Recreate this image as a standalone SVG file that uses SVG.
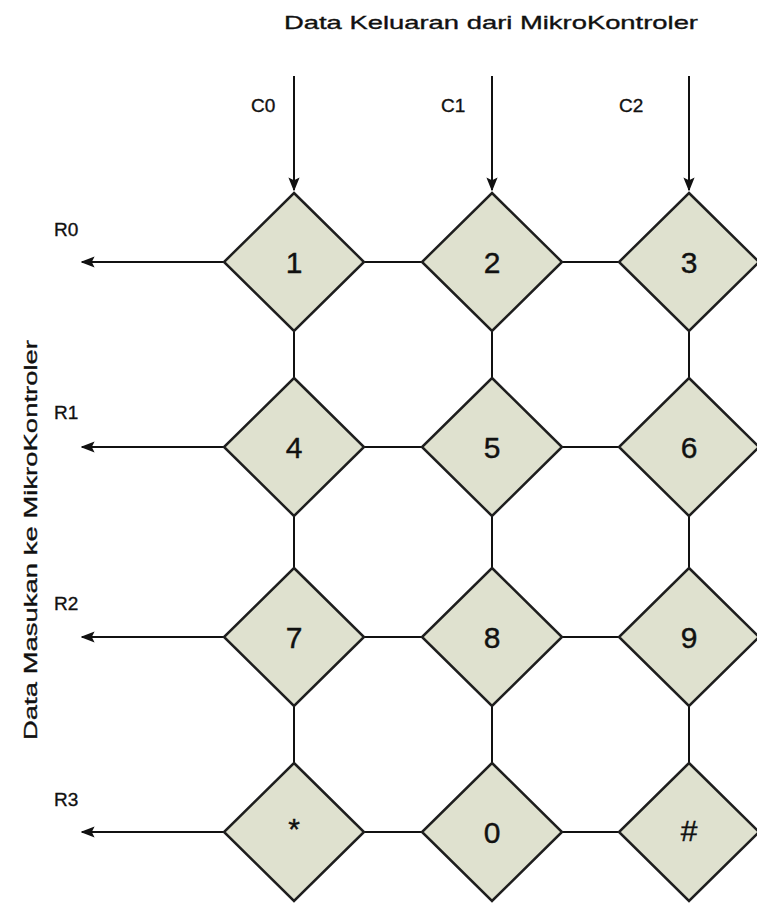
<svg xmlns="http://www.w3.org/2000/svg" width="757" height="904" viewBox="0 0 757 904">
<style>
.key{fill:#dfe1cf;stroke:#1e1e1e;stroke-width:2.5}
.lbl{font-family:"Liberation Sans",Arial,sans-serif;font-size:19px;fill:#111;stroke:#111;stroke-width:0.35}
.dig{font-family:"Liberation Sans",Arial,sans-serif;font-size:30px;fill:#111;text-anchor:middle;stroke:#111;stroke-width:0.4}
.ln{stroke:#111;stroke-width:2;fill:none}
</style>
<defs>
<marker id="ah" viewBox="0 0 10 10" refX="9" refY="5" markerWidth="7" markerHeight="7" orient="auto" markerUnits="strokeWidth">
<path d="M0,1 L10,5 L0,9 L2,5 z" fill="#111"/>
</marker>
</defs>
<rect width="757" height="904" fill="#fff"/>
<text class="lbl" x="284" y="29" textLength="414" lengthAdjust="spacingAndGlyphs" font-size="20">Data Keluaran dari MikroKontroler</text>
<text class="lbl" transform="translate(37,540) rotate(-90)" text-anchor="middle" textLength="400" lengthAdjust="spacingAndGlyphs" font-size="20">Data Masukan ke MikroKontroler</text>
<g id="connectors">
<line class="ln" x1="294" y1="76" x2="294" y2="190" marker-end="url(#ah)"/>
<line class="ln" x1="492" y1="76" x2="492" y2="190" marker-end="url(#ah)"/>
<line class="ln" x1="689" y1="76" x2="689" y2="190" marker-end="url(#ah)"/>
<line class="ln" x1="224" y1="262" x2="82" y2="262" marker-end="url(#ah)"/>
<line class="ln" x1="224" y1="447" x2="82" y2="447" marker-end="url(#ah)"/>
<line class="ln" x1="224" y1="637" x2="82" y2="637" marker-end="url(#ah)"/>
<line class="ln" x1="224" y1="832" x2="82" y2="832" marker-end="url(#ah)"/>
<path class="ln" d="M364,262H422M562,262H620M364,447H422M562,447H620M364,637H422M562,637H620M364,832H422M562,832H620"/>
<path class="ln" d="M294,331V378M492,331V378M689,331V378M294,516V568M492,516V568M689,516V568M294,706V763M492,706V763M689,706V763"/>
</g>
<text class="lbl" x="251" y="112">C0</text>
<text class="lbl" x="441" y="112">C1</text>
<text class="lbl" x="619" y="112">C2</text>
<text class="lbl" x="54" y="236">R0</text>
<text class="lbl" x="54" y="419">R1</text>
<text class="lbl" x="54" y="610">R2</text>
<text class="lbl" x="54" y="806">R3</text>
<g id="k1"><path class="key" d="M294,193L364,262L294,331L224,262z"/><text class="dig" x="294" y="273">1</text></g>
<g id="k2"><path class="key" d="M492,193L562,262L492,331L422,262z"/><text class="dig" x="492" y="273">2</text></g>
<g id="k3"><path class="key" d="M689,193L759,262L689,331L619,262z"/><text class="dig" x="689" y="273">3</text></g>
<g id="k4"><path class="key" d="M294,378L364,447L294,516L224,447z"/><text class="dig" x="294" y="458">4</text></g>
<g id="k5"><path class="key" d="M492,378L562,447L492,516L422,447z"/><text class="dig" x="492" y="458">5</text></g>
<g id="k6"><path class="key" d="M689,378L759,447L689,516L619,447z"/><text class="dig" x="689" y="458">6</text></g>
<g id="k7"><path class="key" d="M294,568L364,637L294,706L224,637z"/><text class="dig" x="294" y="648">7</text></g>
<g id="k8"><path class="key" d="M492,568L562,637L492,706L422,637z"/><text class="dig" x="492" y="648">8</text></g>
<g id="k9"><path class="key" d="M689,568L759,637L689,706L619,637z"/><text class="dig" x="689" y="648">9</text></g>
<g id="kstar"><path class="key" d="M294,763L364,832L294,901L224,832z"/><text class="dig" x="294" y="839" font-size="20">*</text></g>
<g id="k0"><path class="key" d="M492,763L562,832L492,901L422,832z"/><text class="dig" x="492" y="843">0</text></g>
<g id="khash"><path class="key" d="M689,763L759,832L689,901L619,832z"/><text class="dig" x="689" y="841" font-size="23">#</text></g>
</svg>
